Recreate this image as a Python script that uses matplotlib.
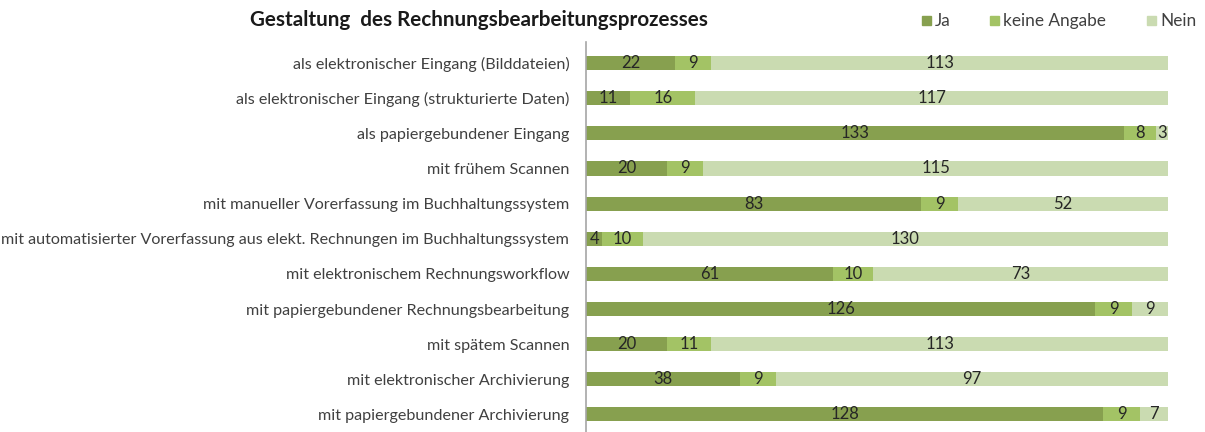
import matplotlib
matplotlib.use("Agg")
import matplotlib.pyplot as plt
from matplotlib.patches import Rectangle

categories = [
    "als elektronischer Eingang (Bilddateien)",
    "als elektronischer Eingang (strukturierte Daten)",
    "als papiergebundener Eingang",
    "mit frühem Scannen",
    "mit manueller Vorerfassung im Buchhaltungssystem",
    "mit automatisierter Vorerfassung aus elekt. Rechnungen im Buchhaltungssystem",
    "mit elektronischem Rechnungsworkflow",
    "mit papiergebundener Rechnungsbearbeitung",
    "mit spätem Scannen",
    "mit elektronischer Archivierung",
    "mit papiergebundener Archivierung",
]
ja = [22, 11, 133, 20, 83, 4, 61, 126, 20, 38, 128]
keine = [9, 16, 8, 9, 9, 10, 10, 9, 11, 9, 9]
nein = [113, 117, 3, 115, 52, 130, 73, 9, 113, 97, 7]
series_names = ["Ja", "keine Angabe", "Nein"]
colors = ["#87A04F", "#A3C365", "#CADBB1"]
title = "Gestaltung  des Rechnungsbearbeitungsprozesses"

plt.rcParams['font.family'] = ['Lato', 'DejaVu Sans']

fig = plt.figure(figsize=(12.05, 4.32), dpi=100)
ax = fig.add_axes([586/1205, 0.0, (1168-586)/1205, 1 - 42/432])

y = list(range(len(categories)))
left = [0]*len(categories)
for vals, col, name in zip([ja, keine, nein], colors, series_names):
    bars = ax.barh(y, vals, left=left, height=0.4, color=col, label=name)
    for b, v in zip(bars, vals):
        ax.text(b.get_x() + b.get_width()/2, b.get_y() + b.get_height()/2, str(v),
                ha='center', va='center', fontsize=12, color='#262626')
    left = [l + v for l, v in zip(left, vals)]

ax.set_xlim(0, 144)
ax.set_ylim(10.5, -0.6)
ax.set_yticks(y)
ax.set_yticklabels(categories, fontsize=11.6, color='#404040')
ax.tick_params(axis='y', length=0, pad=12)
ax.set_xticks([])
for s in ['top', 'right', 'bottom']:
    ax.spines[s].set_visible(False)
ax.spines['left'].set_color('#A6A6A6')
ax.spines['left'].set_linewidth(1.2)

fig.text(250/1205, 1 - 20/432, title, fontsize=14.9, fontweight='bold', color='#1a1a1a',
         ha='left', va='center')

# legend
leg_x = [922, 990, 1147]
for xp, col, name in zip(leg_x, colors, series_names):
    fig.patches.append(Rectangle((xp/1205, 1 - 25/432), 9/1205, 9/432, transform=fig.transFigure,
                                 color=col))
    fig.text((xp + 13)/1205, 1 - 21/432, name, fontsize=12.4, color='#404040', ha='left', va='center')

fig.savefig("out.png", dpi=100)
